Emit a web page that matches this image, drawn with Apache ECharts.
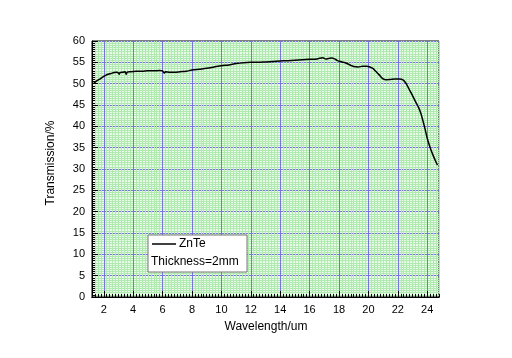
<!DOCTYPE html>
<html><head><meta charset="utf-8">
<script src="https://cdn.jsdelivr.net/npm/echarts@6/dist/echarts.min.js"></script>
<style>html,body{margin:0;padding:0;background:#fff}#c{width:512px;height:358px}</style>
</head><body><div id="c"></div>
<script>
var wavelength = [1.3,1.4,1.5,1.7,1.9,2.1,2.3,2.5,2.7,2.9,3.0,3.05,3.1,3.3,3.45,3.52,3.6,3.8,4.2,4.6,5.0,5.4,5.8,6.0,6.1,6.2,6.5,6.8,7.2,7.6,8.0,8.5,9.0,9.5,10.0,10.5,11.0,11.5,12.0,12.5,13.0,13.5,14.0,14.5,15.0,15.5,16.0,16.5,16.9,17.1,17.3,17.5,17.7,17.9,18.2,18.5,18.8,19.0,19.3,19.6,19.9,20.1,20.3,20.5,20.75,21.0,21.2,21.5,21.8,22.1,22.35,22.55,22.8,23.0,23.2,23.4,23.57,23.7,23.85,24.0,24.2,24.4,24.55,24.7];
var transmission = [50.0,50.3,50.6,51.0,51.5,51.9,52.2,52.4,52.6,52.7,52.5,52.2,52.6,52.7,52.8,52.2,52.7,52.8,52.9,52.9,53.0,53.0,53.1,53.0,52.5,52.8,52.7,52.7,52.8,52.9,53.2,53.4,53.6,53.9,54.2,54.4,54.7,54.9,55.0,55.0,55.1,55.2,55.3,55.4,55.5,55.6,55.7,55.8,56.1,55.8,55.9,56.0,55.8,55.4,55.1,54.8,54.3,54.0,53.9,54.1,54.1,53.9,53.6,52.9,52.0,51.1,50.9,51.0,51.1,51.1,50.9,50.1,48.5,47.2,45.8,44.5,43.0,41.4,39.4,37.2,35.0,33.2,32.0,30.9];
var xTicks = [2,4,6,8,10,12,14,16,18,20,22,24];
var seriesName = 'ZnTe';
var noteText = 'Thickness=2mm';
var xTitle = 'Wavelength/um';
var yTitle = 'Transmission/%';

var FONT = 'Liberation Sans';
var data = wavelength.map(function(w,i){return [w, transmission[i]];});
var chart = echarts.init(document.getElementById('c'), null, {renderer:'canvas'});
chart.setOption({
  animation:false,
  backgroundColor:'#fff',
  grid:{left:92, right:73, top:41, bottom:61, show:true, backgroundColor:'#e8fae8', borderColor:'#000', borderWidth:1, z:0},
  xAxis:[{
    type:'value', min:1.2, max:24.8, interval:0.2, position:'bottom',
    axisLine:{show:true, lineStyle:{color:'#000', width:1}},
    axisTick:{show:true, inside:true, length:3, lineStyle:{color:'#000'}},
    axisLabel:{show:false},
    splitLine:{show:true, lineStyle:{color:'#b0eab0', width:1}}
  },{
    type:'value', min:1.2, max:24.8, position:'bottom', offset:0,
    axisLine:{show:true, lineStyle:{color:'#000', width:1}},
    axisTick:{show:true, inside:true, length:6, customValues:xTicks, lineStyle:{color:'#000'}},
    axisLabel:{show:true, customValues:xTicks, margin:7, color:'#000', fontFamily:FONT, fontSize:11},
    splitLine:{show:true, lineStyle:{color:'#7676d8', width:1}}
  }],
  yAxis:{
    type:'value', min:0, max:60, interval:5,
    axisLine:{show:true, lineStyle:{color:'#000', width:1}},
    axisTick:{show:true, inside:true, length:6, lineStyle:{color:'#000'}},
    minorTick:{show:true, splitNumber:10, length:3, lineStyle:{color:'#000'}},
    axisLabel:{color:'#000', fontFamily:FONT, fontSize:11, margin:7},
    splitLine:{show:true, lineStyle:{color:'#7676d8', width:1}},
    minorSplitLine:{show:true, lineStyle:{color:'#b0eab0', width:1}}
  },
  series:[{
    name:seriesName, type:'line', xAxisIndex:1, data:data, showSymbol:false, symbol:'none', smooth:0.3,
    lineStyle:{color:'#000', width:1.5}, z:5
  }],
  graphic:[
    {type:'text', x:266, y:327, style:{text:xTitle, font:'12px '+FONT, fill:'#000', textAlign:'center', textVerticalAlign:'middle'}},
    {type:'text', rotation:Math.PI/2, x:51, y:163, style:{text:yTitle, font:'12px '+FONT, fill:'#000', textAlign:'center', textVerticalAlign:'middle'}},
    {type:'rect', shape:{x:148, y:235, width:99, height:37}, style:{fill:'#fff', stroke:'#777', lineWidth:1}, z:10},
    {type:'line', shape:{x1:152, y1:244, x2:176, y2:244}, style:{stroke:'#000', lineWidth:1.5}, z:11},
    {type:'text', x:179, y:244, style:{text:seriesName, font:'12px '+FONT, fill:'#000', textVerticalAlign:'middle'}, z:11},
    {type:'text', x:151, y:262, style:{text:noteText, font:'12px '+FONT, fill:'#000', textVerticalAlign:'middle'}, z:11}
  ]
});
</script></body></html>
